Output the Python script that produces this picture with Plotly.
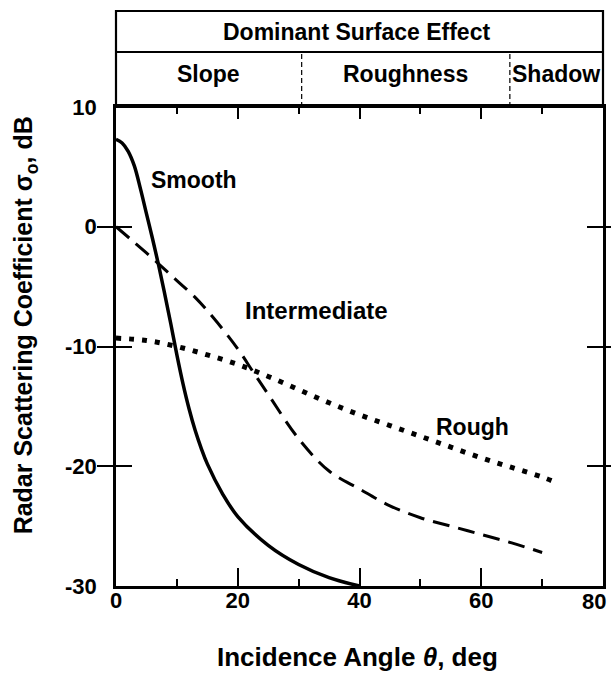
import plotly.graph_objects as go

# Incidence angle (deg) vs radar scattering coefficient (dB) for three surface types
smooth_angle = [0, 1, 2, 3, 4, 5, 6, 7, 8, 9, 10, 11, 12, 13, 14, 15, 17.5, 20, 25, 30, 35, 40]
smooth_sigma = [7.3, 7.0, 6.3, 5.1, 3.2, 1.1, -1.0, -3.2, -5.6, -8.1, -10.7, -13.1, -15.2,
                -17.0, -18.5, -19.8, -22.3, -24.2, -26.6, -28.2, -29.3, -30.0]

inter_angle = [0, 3, 7, 10, 13, 16, 20, 22.5, 25, 30, 35, 40, 45, 50, 55, 60, 65, 70]
inter_sigma = [0.0, -1.3, -3.1, -4.5, -5.9, -7.6, -10.2, -12.1, -14.0, -17.7, -20.4,
               -21.9, -23.3, -24.3, -25.0, -25.7, -26.4, -27.2]

rough_angle = [0, 5, 10, 15, 20, 25, 30, 35, 40, 45, 50, 55, 60, 65, 70, 72.5]
rough_sigma = [-9.3, -9.5, -10.0, -10.7, -11.5, -12.5, -13.6, -14.7, -15.7, -16.6,
               -17.5, -18.4, -19.3, -20.1, -20.9, -21.4]

curve_labels = ["Smooth", "Intermediate", "Rough"]
label_pos = [(12.8, 3.9), (32.9, -7.0), (58.6, -16.7)]

x_ticks = [0, 20, 40, 60, 80]
y_ticks = [10, 0, -10, -20, -30]

# Dominant surface effect regimes (angle boundaries)
regime_names = ["Slope", "Roughness", "Shadow"]
regime_bounds = [30.5, 64.7]

FONT = "Liberation Sans"
X0, X1 = 0, 80

fig = go.Figure()
fig.add_trace(go.Scatter(x=smooth_angle, y=smooth_sigma, mode="lines", line_shape="spline",
                         line=dict(color="black", width=3.5)))
fig.add_trace(go.Scatter(x=inter_angle, y=inter_sigma, mode="lines", line_shape="spline",
                         line=dict(color="black", width=3, dash="17px,9px")))
fig.add_trace(go.Scatter(x=rough_angle, y=rough_sigma, mode="lines", line_shape="spline",
                         line=dict(color="black", width=5, dash="5px,8px")))
# top axis carrying its own (shorter) ticks
fig.add_trace(go.Scatter(x=[0], y=[0], xaxis="x2", mode="markers",
                         marker=dict(opacity=0), hoverinfo="skip"))

for name, (lx, ly) in zip(curve_labels, label_pos):
    fig.add_annotation(x=lx, y=ly, text=name, showarrow=False,
                       font=dict(family=FONT, size=24 if name == "Intermediate" else 23,
                                 weight="bold", color="black"))

# header box above the plot
top = 1.2004
mid = 1.1148
fig.add_shape(type="rect", xref="paper", yref="paper", x0=0, x1=1, y0=1, y1=top,
              line=dict(color="black", width=2.2))
fig.add_shape(type="line", xref="paper", yref="paper", x0=0, x1=1, y0=mid, y1=mid,
              line=dict(color="black", width=1.8))
for b in regime_bounds:
    xp = (b - X0) / (X1 - X0)
    fig.add_shape(type="line", xref="paper", yref="paper", x0=xp, x1=xp, y0=1, y1=mid,
                  line=dict(color="black", width=1.2, dash="5px,3px"))

fig.add_annotation(xref="paper", yref="paper", x=0.494, y=(top + mid) / 2,
                   text="Dominant Surface Effect", showarrow=False, yanchor="middle",
                   font=dict(family=FONT, size=23, weight="bold", color="black"))
regime_x = [0.19, 0.594, 0.997]
regime_anchor = ["center", "center", "right"]
for name, xp, anc in zip(regime_names, regime_x, regime_anchor):
    fig.add_annotation(xref="paper", yref="paper", x=xp, y=1.068, text=name,
                       showarrow=False, xanchor=anc, yanchor="middle",
                       font=dict(family=FONT, size=23, weight="bold", color="black"))

# axis titles
fig.add_annotation(xref="paper", yref="paper", x=-0.186, y=0.545, textangle=-90,
                   text="Radar Scattering Coefficient σ<sub>o</sub>, dB", showarrow=False,
                   xanchor="center", yanchor="middle",
                   font=dict(family=FONT, size=25, weight="bold", color="black"))
fig.add_annotation(xref="paper", yref="paper", x=0.495, y=-0.148,
                   text="Incidence Angle <i>θ</i>, deg", showarrow=False,
                   xanchor="center", yanchor="middle",
                   font=dict(family=FONT, size=26, weight="bold", color="black"))

tick_font = dict(family=FONT, size=22, weight="bold", color="black")

# last x tick label drawn just inside the page edge
fig.add_annotation(x=x_ticks[-1], y=-30, text=str(x_ticks[-1]), showarrow=False,
                   xanchor="right", yanchor="middle", xshift=5, yshift=-15, font=tick_font)

fig.update_layout(
    width=611, height=673,
    margin=dict(l=116, r=5, t=107, b=87),
    paper_bgcolor="white", plot_bgcolor="white",
    showlegend=False,
    xaxis=dict(range=[X0, X1], tickvals=x_ticks[:-1],
               ticks="inside", ticklen=18, tickwidth=2, tickcolor="black",
               minor=dict(dtick=10, ticks="inside", ticklen=7, tickwidth=2, tickcolor="black"),
               showline=True, linecolor="black", linewidth=2.5, mirror=True,
               showgrid=False, zeroline=False, tickfont=tick_font, ticklabelstandoff=-7),
    xaxis2=dict(range=[X0, X1], overlaying="x", side="top", tickvals=x_ticks,
                ticks="inside", ticklen=12, tickwidth=2, tickcolor="black",
                minor=dict(dtick=10, ticks="inside", ticklen=7, tickwidth=2, tickcolor="black"),
                showticklabels=False, showgrid=False, zeroline=False, showline=False),
    yaxis=dict(range=[-30, 10], tickvals=y_ticks, ticktext=[str(v) for v in y_ticks],
               ticks="inside", ticklen=16, tickwidth=2, tickcolor="black",
               showline=True, linecolor="black", linewidth=2.5, mirror="allticks",
               showgrid=False, zeroline=False, tickfont=tick_font, ticklabelstandoff=12),
)

fig.write_html("out.html")
